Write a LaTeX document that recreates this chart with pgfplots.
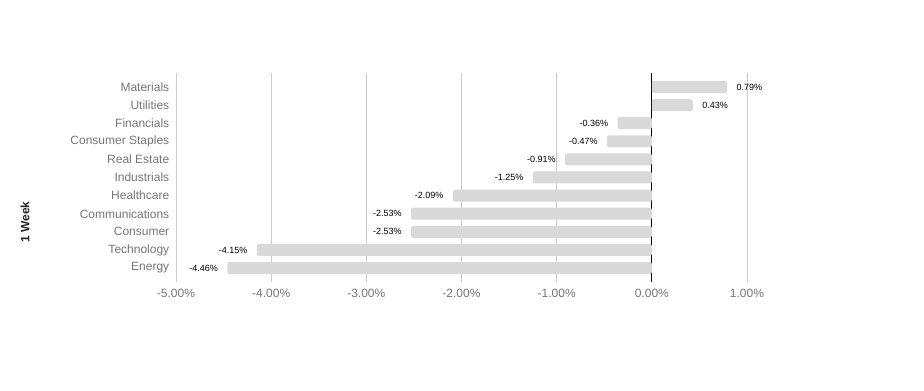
\documentclass[border=0pt]{standalone}
\usepackage{pgfplots}
\pgfplotsset{compat=1.18}
\usepackage{fontspec}
\setmainfont{Liberation Sans}
\definecolor{gridc}{HTML}{CCCCCC}
\definecolor{barc}{HTML}{D9D9D9}
\definecolor{tickc}{HTML}{757575}
\definecolor{titlec}{HTML}{222222}
\begin{document}
\begin{tikzpicture}[x=1pt,y=1pt]
\path[use as bounding box] (0,0) rectangle (924,391);
\begin{axis}[
  at={(176pt,109pt)}, anchor=south west,
  scale only axis, width=571pt, height=209pt,
  xbar, bar width=12pt, bar shift=0pt,
  xmin=-5, xmax=1, ymin=-0.77, ymax=10.77,
  xtick={-5,-4,-3,-2,-1,0,1},
  ytick={0,...,10},
  yticklabels={Energy,Technology,Consumer,Communications,Healthcare,Industrials,Real Estate,Consumer Staples,Financials,Utilities,Materials},
  xticklabel={\pgfmathprintnumber[fixed,fixed zerofill,precision=2]{\tick}\%},
  /pgf/number format/assume math mode=true,
  xmajorgrids, grid style={gridc, line width=0.8pt},
  extra x ticks={0}, extra x tick labels={},
  extra x tick style={grid style={black, line width=0.8pt}},
  axis line style={draw=none}, major tick style={draw=none}, tick style={draw=none},
  ticklabel style={font=\fontsize{12}{14}\selectfont, text=tickc},
  yticklabel style={xshift=1pt},
  xticklabel style={yshift=-4pt},
  nodes near coords={\pgfmathprintnumber[fixed,fixed zerofill,precision=2]{\pgfplotspointmeta}\%},
  every node near coord/.append style={font=\fontsize{9}{10}\selectfont, text=black},
  clip=false,
]
\addplot[fill=barc, draw=none, rounded corners=2pt,
  every node near coord/.append style={anchor=east, xshift=-6pt}]
  coordinates {(-4.46,0) (-4.15,1) (-2.53,2) (-2.53,3) (-2.09,4) (-1.25,5) (-0.91,6) (-0.47,7) (-0.36,8)};
\addplot[fill=barc, draw=none, rounded corners=2pt,
  every node near coord/.append style={anchor=west, xshift=6pt}]
  coordinates {(0.43,9) (0.79,10)};
\end{axis}
\node[rotate=90, font=\bfseries\fontsize{12}{14}\selectfont, text=titlec] at (25,169) {1 Week};
\end{tikzpicture}
\end{document}
